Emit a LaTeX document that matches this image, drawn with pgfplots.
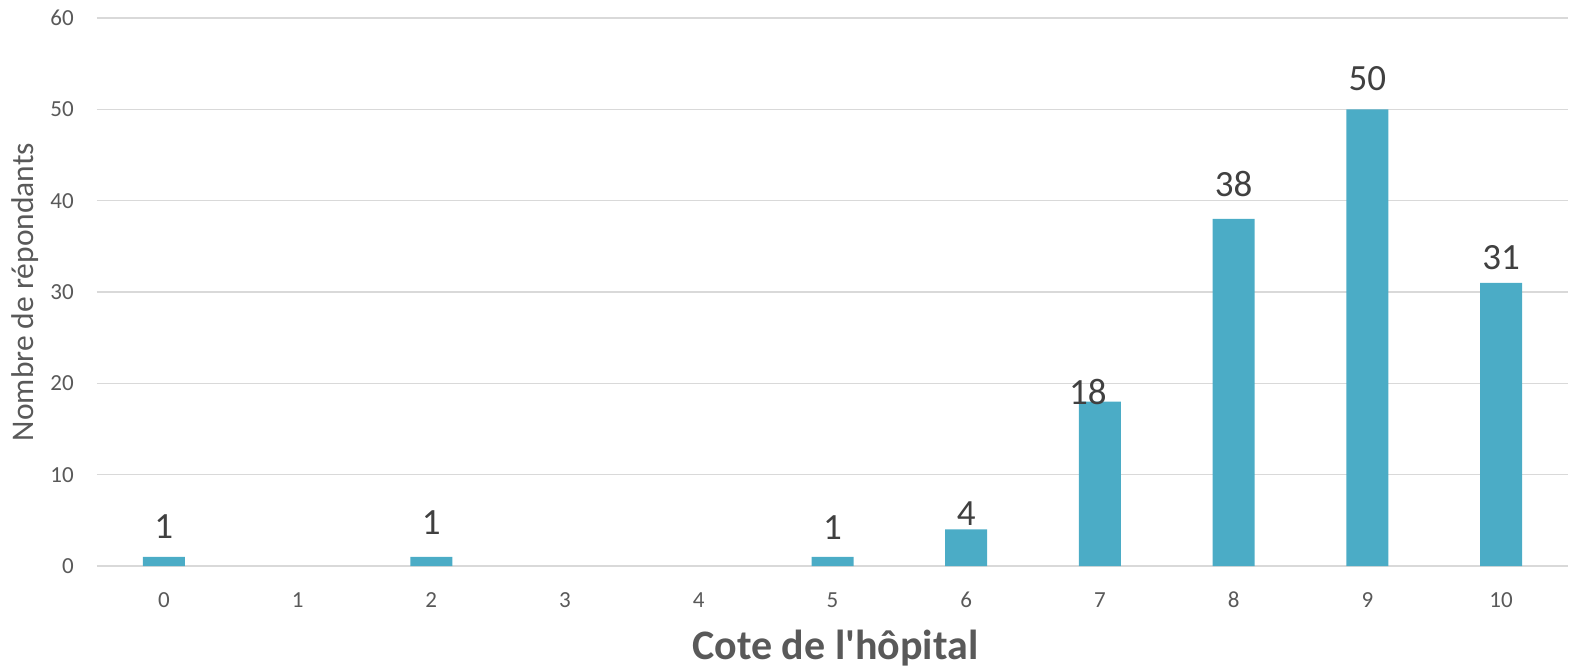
\documentclass[border=0pt]{standalone}
\usepackage{fontspec}
\setmainfont{Carlito}
\newfontfamily\plainfont{Carlito}
\usepackage{pgfplots}
\usepackage{pgfplotstable}
\pgfplotsset{compat=1.18}

\definecolor{barblue}{HTML}{4BACC6}
\definecolor{gridgray}{HTML}{D9D9D9}
\definecolor{ticktext}{HTML}{595959}
\definecolor{labeltext}{HTML}{404040}

% score, respondents, label offsets (pt)
\pgfplotstableread{
x  y   dy  dx
0  1   18  0
2  1   22  0
5  1   17  0
6  4   4   0
7  18  -3  -12
8  38  22  0
9  50  18  0
10 31  13  0
}\scores

\begin{document}
\begin{tikzpicture}
\useasboundingbox (-97pt,-101pt) rectangle (1477pt,566pt);
\begin{axis}[
  at={(0,0)}, anchor=south west,
  width=1471pt, height=548pt, scale only axis,
  ybar, bar width=42pt,
  xmin=-0.5, xmax=10.5,
  ymin=0, ymax=60,
  xtick={0,...,10},
  ytick={0,10,...,60},
  ymajorgrids,
  major grid style={color=gridgray, line width=1.5pt},
  axis line style={draw=none},
  tick style={draw=none},
  major tick length=0pt,
  /pgf/number format/assume math mode=true,
  tick label style={font=\fontsize{23}{26}\selectfont, text=ticktext, inner sep=0pt},
  xticklabel style={anchor=base, yshift=-41pt},
  yticklabel style={anchor=east, xshift=-23pt},
  xlabel={\plainfont\bfseries Cote de l'hôpital},
  ylabel={Nombre de répondants},
  every axis x label/.style={at={(axis description cs:0.5,0)}, xshift=3pt, yshift=-93pt, anchor=base,
    font=\fontsize{42}{46}\selectfont, text=ticktext},
  every axis y label/.style={at={(axis description cs:0,0.5)}, xshift=-63pt, rotate=90, anchor=base,
    font=\fontsize{31.5}{34}\selectfont, text=ticktext},
  clip=false,
  nodes near coords,
  visualization depends on={\thisrow{dy} \as \dy},
  visualization depends on={\thisrow{dx} \as \dx},
  nodes near coords style={anchor=south, inner sep=0pt, yshift=\dy pt, xshift=\dx pt,
    font=\fontsize{37}{40}\selectfont, text=labeltext},
]
\addplot[fill=barblue, draw=none] table[x=x, y=y] {\scores};
\end{axis}
\end{tikzpicture}
\end{document}
